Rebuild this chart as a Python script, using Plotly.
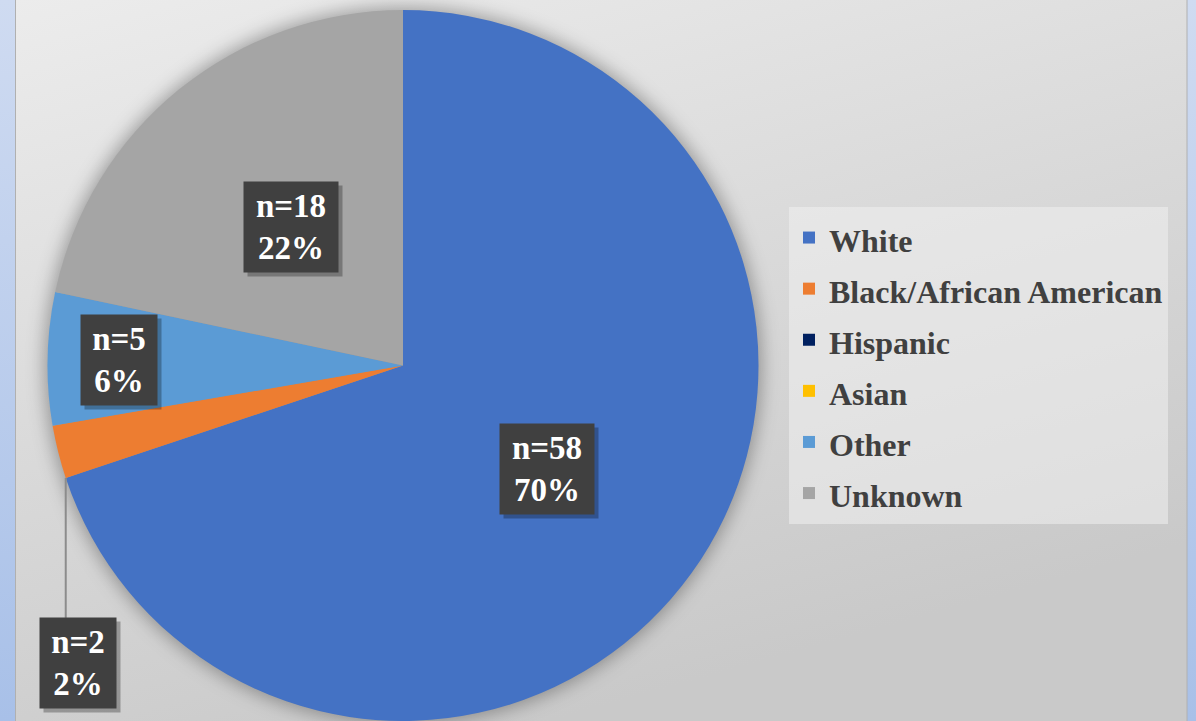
import base64
import math
import plotly.graph_objects as go

# ---- data ----
labels = ["White", "Black/African American", "Hispanic", "Asian", "Other", "Unknown"]
counts = [58, 2, 0, 0, 5, 18]
colors = ["#4472C4", "#ED7D31", "#002060", "#FFC000", "#5B9BD5", "#A5A5A5"]

W, H = 1196, 721
FONT = "'Liberation Serif', 'Times New Roman', 'DejaVu Serif', serif"

# pie placement (pixels)
dom_x = [47, 759]
dom_top = 10
cx = (dom_x[0] + dom_x[1]) / 2
R = min(dom_x[1] - dom_x[0], H - dom_top) / 2
cy = dom_top + R

# ---- background (gradient panel, blue side strips, pie glow) ----
svg = f'''<svg xmlns="http://www.w3.org/2000/svg" width="{W}" height="{H}" viewBox="0 0 {W} {H}">
<defs>
<linearGradient id="b" x1="0" y1="0" x2="0" y2="1"><stop offset="0" stop-color="#cfdbf1"/><stop offset="1" stop-color="#a8c0e8"/></linearGradient>
<linearGradient id="g" x1="0" y1="0" x2="0.45" y2="1"><stop offset="0" stop-color="#ececec"/><stop offset="1" stop-color="#c9c9c9"/></linearGradient>
<filter id="s" x="-20%" y="-20%" width="140%" height="140%"><feGaussianBlur stdDeviation="9"/></filter>
</defs>
<rect width="{W}" height="{H}" fill="url(#b)"/>
<rect x="15.5" y="-2" width="{W-24.5}" height="{H+4}" fill="url(#g)" stroke="#b0b0b0" stroke-width="1"/>
<circle cx="{cx}" cy="{cy}" r="{R+3}" fill="#000" fill-opacity="0.32" filter="url(#s)"/>
</svg>'''
bg_uri = "data:image/svg+xml;base64," + base64.b64encode(svg.encode()).decode()

# legend entries drawn at 32px inside a 37px legend font (gives Excel-like row spacing)
legend_labels = [f"<span style='font-size:32px'>{l}</span>" for l in labels]

fig = go.Figure()
fig.add_trace(go.Pie(
    labels=legend_labels, values=counts, sort=False, direction="clockwise", rotation=0,
    marker=dict(colors=colors, line=dict(width=0)),
    textinfo="none", hoverinfo="value+percent",
    domain=dict(x=[dom_x[0] / W, dom_x[1] / W], y=[0, (H - dom_top) / H]),
))

# ---- data labels: dark boxes placed along each slice's mid-angle ----
total = sum(counts)
radial = [0.5, None, None, None, 0.8, 0.5]
annotations = []
shapes = []


def to_paper(px, py):
    return px / W, 1 - py / H


cum = 0
for lab, v, rf in zip(labels, counts, radial):
    start = cum
    cum += v
    if v == 0:
        continue
    pct = round(v / total * 100)
    txt = f"<b>n={v}</b><br><b>{pct}%</b>"
    width = 12 + 18 * len(f"n={v}")
    if rf is not None:
        ang = math.radians((start + v / 2) / total * 360)
        px = cx + rf * R * math.sin(ang)
        py = cy - rf * R * math.cos(ang)
    else:
        # outside label with a vertical leader line from the slice's leading edge
        ang = math.radians(start / total * 360)
        ex = cx + R * math.sin(ang)
        ey = cy - R * math.cos(ang)
        px, py = ex + 12, ey + 185
        x0, y0 = to_paper(ex, ey)
        x1, y1 = to_paper(ex, py - 45)
        shapes.append(dict(type="line", xref="paper", yref="paper", x0=x0, y0=y0, x1=x1, y1=y1,
                           line=dict(color="#8c8c8c", width=2)))
    xp, yp = to_paper(px, py)
    common = dict(x=xp, y=yp, xref="paper", yref="paper", showarrow=False,
                  xanchor="center", yanchor="middle", width=width, height=80, borderpad=5)
    # drop shadow
    annotations.append(dict(common, text=" ", bgcolor="rgba(0,0,0,0.28)",
                            xshift=4, yshift=-4, font=dict(size=33)))
    annotations.append(dict(common, text=txt, bgcolor="#404040", align="center",
                            font=dict(family=FONT, size=33, color="white")))

fig.update_layout(
    width=W, height=H,
    margin=dict(l=0, r=0, t=0, b=0),
    paper_bgcolor="#e0e0e0",
    plot_bgcolor="rgba(0,0,0,0)",
    images=[dict(source=bg_uri, xref="paper", yref="paper", x=0, y=1, sizex=1, sizey=1,
                 xanchor="left", yanchor="top", sizing="stretch", layer="below")],
    showlegend=True,
    legend=dict(x=789 / W, y=1 - 207 / H, xanchor="left", yanchor="top",
                bgcolor="rgba(240,240,240,0.55)",
                font=dict(family=FONT, size=37, color="#404040", weight="bold"),
                traceorder="normal"),
    annotations=annotations,
    shapes=shapes,
)

fig.write_html("out.html", config={"displayModeBar": False},
               post_script="document.body.style.margin='0';document.body.style.overflow='hidden';")
